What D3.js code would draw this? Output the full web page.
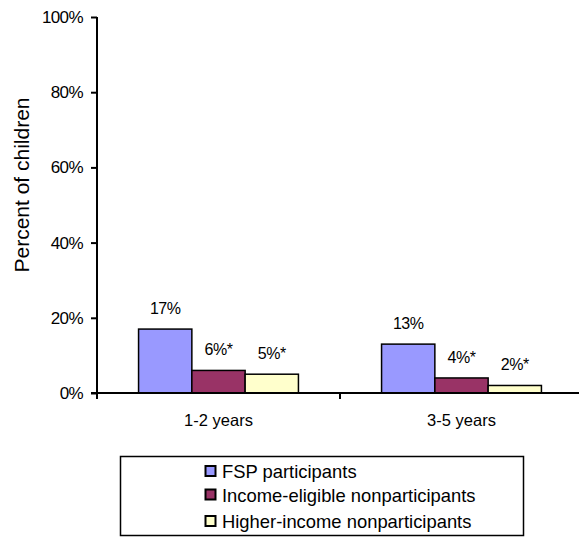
<!DOCTYPE html>
<html>
<head>
<meta charset="utf-8">
<script src="https://cdn.jsdelivr.net/npm/d3@7"></script>
<style>
  body { margin: 0; background: #fff; overflow: hidden; }
  svg { display: block; font-family: "Liberation Sans", Arial, sans-serif; }
</style>
</head>
<body>
<svg id="chart" width="579" height="537"></svg>
<script>
// Age groups on the x axis
const categories = ["1-2 years", "3-5 years"];
// Series names and their percentages, one value per age group
const seriesNames = ["FSP participants", "Income-eligible nonparticipants", "Higher-income nonparticipants"];
const fspValues = [17, 13];
const eligibleValues = [6, 4];
const higherValues = [5, 2];
// Value labels printed above the bars
const fspLabels = ["17%", "13%"];
const eligibleLabels = ["6%*", "4%*"];
const higherLabels = ["5%*", "2%*"];
const yTicks = [0, 20, 40, 60, 80, 100];

const colors = ["#9999FF", "#993366", "#FFFFCC"];
const seriesValues = [fspValues, eligibleValues, higherValues];
const seriesLabels = [fspLabels, eligibleLabels, higherLabels];

const svg = d3.select("#chart");
const plotLeft = 97, plotRight = 583, plotTop = 17, plotBottom = 393;

const x0 = d3.scaleBand().domain(categories).range([plotLeft, plotRight]).paddingInner(0).paddingOuter(0);
const x1 = d3.scaleBand().domain(d3.range(seriesNames.length))
  .range([0, x0.bandwidth()]).paddingInner(0).paddingOuter(0.78);
const y = d3.scaleLinear().domain([0, 100]).range([plotBottom, plotTop]);

// Bars and their labels
categories.forEach((cat, ci) => {
  seriesNames.forEach((name, si) => {
    const v = seriesValues[si][ci];
    const bx = x0(cat) + x1(si);
    svg.append("rect")
      .attr("x", bx).attr("y", y(v))
      .attr("width", x1.bandwidth()).attr("height", y(0) - y(v))
      .attr("fill", colors[si]).attr("stroke", "#000").attr("stroke-width", 1.5);
    svg.append("text")
      .attr("x", bx + x1.bandwidth() / 2).attr("y", y(v) - 15)
      .attr("text-anchor", "middle").attr("font-size", 16).attr("fill", "#000")
      .attr("letter-spacing", -0.5)
      .text(seriesLabels[si][ci]);
  });
});

// Y axis
const yAxis = d3.axisLeft(y).tickValues(yTicks).tickFormat(d => d + "%").tickSize(6).tickPadding(8);
const gy = svg.append("g").attr("transform", `translate(${plotLeft},0)`).call(yAxis);
gy.select(".domain").attr("stroke", "#000").attr("stroke-width", 2).attr("d", `M0,${plotTop}V${plotBottom}`);
gy.selectAll(".tick line").attr("stroke", "#000").attr("stroke-width", 2);
gy.selectAll(".tick text").attr("font-size", 17).attr("fill", "#000")
  .attr("letter-spacing", -0.6)
  .attr("font-family", "Liberation Sans, Arial, sans-serif");

// X axis: baseline with ticks at group boundaries
svg.append("line").attr("x1", plotLeft - 6).attr("x2", plotRight).attr("y1", plotBottom).attr("y2", plotBottom)
  .attr("stroke", "#000").attr("stroke-width", 2);
const boundaries = [plotLeft, x0(categories[1]), plotRight];
svg.selectAll(".xtick").data(boundaries).enter().append("line")
  .attr("x1", d => d).attr("x2", d => d).attr("y1", plotBottom).attr("y2", plotBottom + 6)
  .attr("stroke", "#000").attr("stroke-width", 2);
svg.selectAll(".xlabel").data(categories).enter().append("text")
  .attr("x", d => x0(d) + x0.bandwidth() / 2).attr("y", 426)
  .attr("text-anchor", "middle").attr("font-size", 16.5).attr("fill", "#000")
  .text(d => d);

// Y axis title
svg.append("text")
  .attr("transform", "translate(29,185) rotate(-90)")
  .attr("text-anchor", "middle").attr("font-size", 21).attr("fill", "#000")
  .text("Percent of children");

// Legend
svg.append("rect").attr("x", 120.5).attr("y", 456.5).attr("width", 403).attr("height", 79)
  .attr("fill", "none").attr("stroke", "#000").attr("stroke-width", 1.5);
const legendRows = [471.5, 495, 521.5];
seriesNames.forEach((name, i) => {
  svg.append("rect").attr("x", 205.5).attr("y", legendRows[i] - 5.5).attr("width", 10).attr("height", 10)
    .attr("fill", colors[i]).attr("stroke", "#000").attr("stroke-width", 2);
  svg.append("text").attr("x", 222).attr("y", legendRows[i] + 6.5)
    .attr("font-size", 18.4).attr("fill", "#000").text(name);
});
</script>
</body>
</html>
